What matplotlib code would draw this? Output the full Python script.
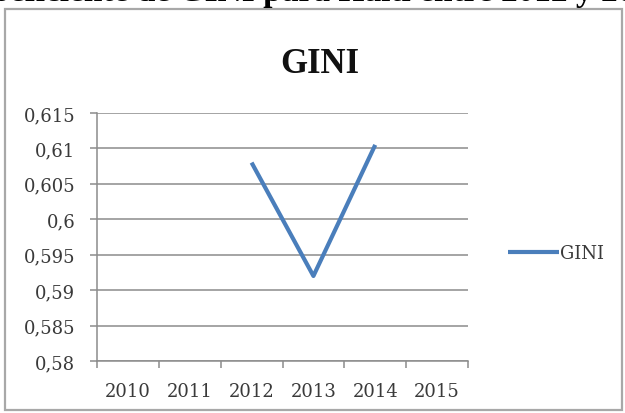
import numpy as np
import matplotlib
matplotlib.use("Agg")
import matplotlib.pyplot as plt
from matplotlib.patches import Rectangle
from matplotlib.ticker import FixedLocator, FuncFormatter

years = ["2010", "2011", "2012", "2013", "2014", "2015"]
gini = [np.nan, np.nan, 0.608, 0.592, 0.6105, np.nan]
y_ticks = [0.58, 0.585, 0.59, 0.595, 0.6, 0.605, 0.61, 0.615]
series_name = "GINI"
chart_title = "GINI"
caption_prefix = "Coeficiente de GINI "
caption_rest = "para Haiti entre 2012 y 2014"

W, H = 625, 414
fig = plt.figure(figsize=(W / 100, H / 100), dpi=100)
fig.patch.set_facecolor("white")

serif_tick = ["DejaVu Serif"]
serif_cap = ["Liberation Serif", "DejaVu Serif"]
fs = 13
txt_color = "#3a3a3a"
grid_color = "#8c8c8c"
line_color = "#4a7ebb"

# chart box border
fig.patches.append(Rectangle((5 / W, 1 - 411 / H), 617 / W, (411 - 10) / H,
                             transform=fig.transFigure, fill=False,
                             edgecolor="#a8a8a8", linewidth=1.6))

# cropped caption at top (only its lower part shows, as in the source)
cap_fs = 24
renderer = fig.canvas.get_renderer()
probe = fig.text(0, 0, caption_prefix, fontsize=cap_fs,
                 fontweight="bold", family=serif_cap)
pw = probe.get_window_extent(renderer=renderer).width
probe.remove()
fig.text((263 - pw) / W, 1 - 1.5 / H, caption_prefix + caption_rest,
         fontsize=cap_fs, fontweight="bold", family=serif_cap, color="black",
         ha="left", va="baseline")

ax = fig.add_axes([97 / W, 52 / H, 371 / W, 248 / H])
x = np.arange(len(years))
ax.plot(x, gini, color=line_color, linewidth=3, solid_capstyle="butt",
        label=series_name)

ax.set_xlim(-0.5, len(years) - 0.5)
ax.set_ylim(y_ticks[0], y_ticks[-1])
ax.yaxis.set_major_locator(FixedLocator(y_ticks))
ax.yaxis.set_major_formatter(FuncFormatter(lambda v, p: ("%g" % round(v, 4)).replace(".", ",")))
ax.grid(axis="y", color=grid_color, linewidth=1.1)
ax.set_axisbelow(True)

ax.set_xticks(np.arange(-0.5, len(years), 1.0))
ax.set_xticklabels([])
ax.set_xticks(x, minor=True)
ax.set_xticklabels(years, minor=True)
ax.tick_params(axis="x", which="minor", length=0, pad=15, labelsize=fs,
               labelcolor=txt_color)
ax.tick_params(axis="x", which="major", length=5, color=grid_color, width=1.1)
ax.tick_params(axis="y", length=5, color=grid_color, width=1.1, pad=10.5,
               labelsize=fs, labelcolor=txt_color)
for lab in ax.get_xticklabels(minor=True) + ax.get_yticklabels():
    lab.set_family(serif_tick)

for s in ["top", "right"]:
    ax.spines[s].set_visible(False)
for s in ["left", "bottom"]:
    ax.spines[s].set_color(grid_color)
    ax.spines[s].set_linewidth(1.1)

fig.text(320 / W, 1 - 73 / H, chart_title, fontsize=25, fontweight="bold",
         family=serif_cap, color="#111111", ha="center", va="baseline")

leg = fig.legend(handles=ax.get_lines(), labels=[series_name],
                 loc="center left", bbox_to_anchor=(508 / W, 1 - 254 / H),
                 frameon=False, handlelength=2.8, handletextpad=0.1,
                 borderpad=0, borderaxespad=0,
                 prop={"family": serif_tick, "size": fs})
for t in leg.get_texts():
    t.set_color(txt_color)

fig.savefig("out.png", dpi=100)
